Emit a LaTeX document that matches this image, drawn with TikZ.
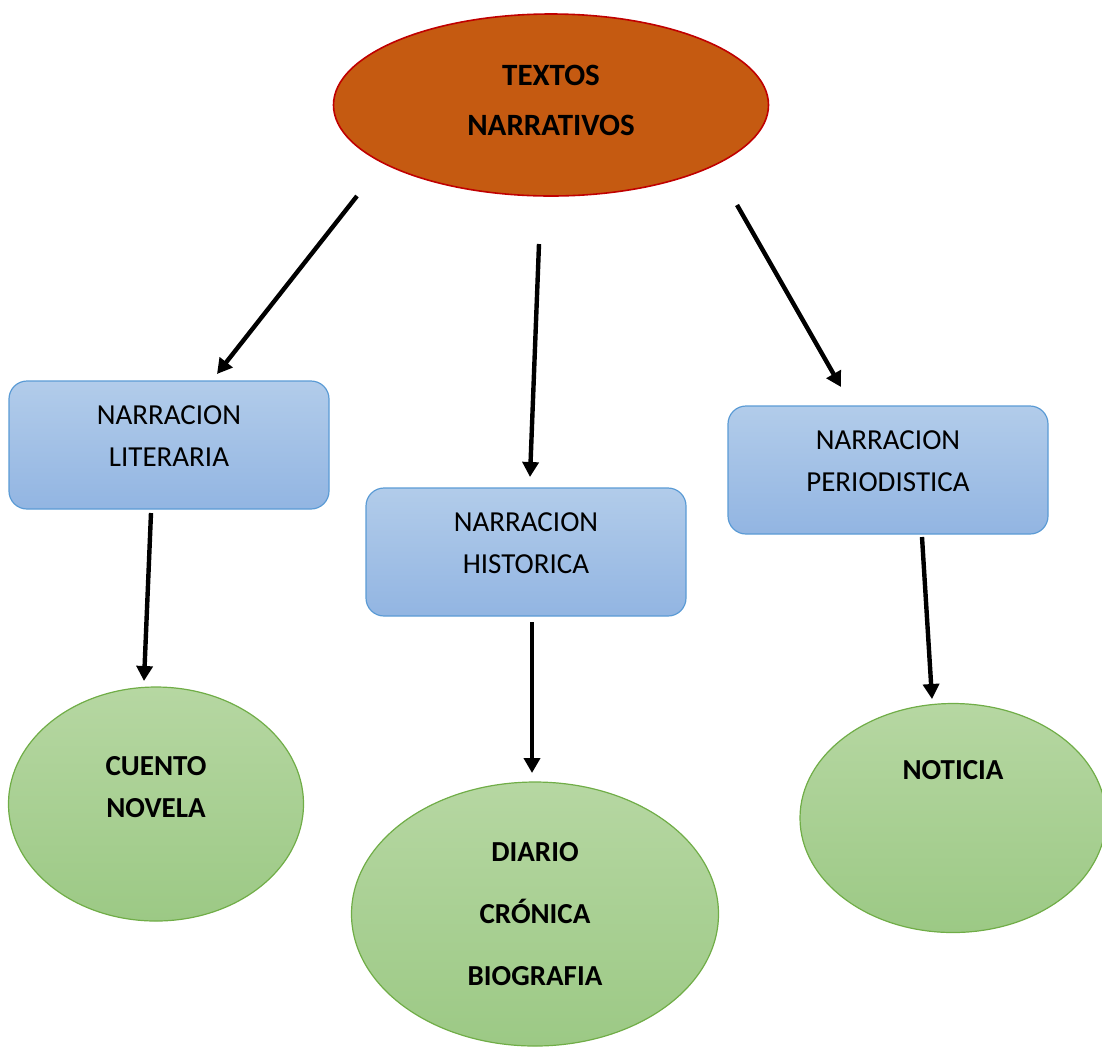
\documentclass[tikz,border=0pt]{standalone}
\usepackage{fontspec}
\setmainfont{Carlito}
\usetikzlibrary{shapes.geometric,arrows.meta}
\definecolor{tronco}{HTML}{C55A11}
\definecolor{troncoborde}{HTML}{C00000}
\definecolor{azularriba}{HTML}{B2CCEA}
\definecolor{azulabajo}{HTML}{92B5E2}
\definecolor{azulborde}{HTML}{5B9BD5}
\definecolor{verdearriba}{HTML}{B6D7A2}
\definecolor{verdeabajo}{HTML}{9CC985}
\definecolor{verdeborde}{HTML}{70AD47}
\begin{document}
\begin{tikzpicture}[x=0.5pt, y=-0.5pt,
  tema/.style={ellipse, fill=tronco, draw=troncoborde, line width=0.8pt,
    minimum width=217.5pt, minimum height=91pt, align=center,
    font=\fontsize{15.5}{25}\selectfont\bfseries},
  caja/.style={rectangle, rounded corners=9pt, top color=azularriba, bottom color=azulabajo,
    draw=azulborde, line width=0.6pt, minimum width=160pt, minimum height=64pt,
    align=center, font=\fontsize{14.5}{21}\selectfont},
  hoja/.style={ellipse, top color=verdearriba, bottom color=verdeabajo,
    draw=verdeborde, line width=0.6pt, align=center,
    font=\fontsize{14.5}{21}\selectfont\bfseries},
  flecha/.style={line width=2.2pt, -{Triangle[length=7.5pt,width=8pt]}}]

\useasboundingbox (0,0) rectangle (1102,1046);

\node [tema] (textos) at (551,105) {TEXTOS\\NARRATIVOS\\[-20pt]\mbox{}};

\node [caja] (literaria) at (169,445) {NARRACION\\LITERARIA\\[-12pt]\mbox{}};
\node [caja] (historica) at (526,552) {NARRACION\\HISTORICA\\[-12pt]\mbox{}};
\node [caja] (periodistica) at (888,470) {NARRACION\\PERIODISTICA\\[-12pt]\mbox{}};

\node [hoja, minimum width=147.5pt, minimum height=117pt] (cuento) at (156,804) {CUENTO\\NOVELA\\[-4pt]\mbox{}};
\node [hoja, minimum width=183.5pt, minimum height=132pt, font=\fontsize{14.5}{31}\selectfont\bfseries] (diario) at (535,914) {DIARIO\\CRÓNICA\\BIOGRAFIA};
\node [hoja, minimum width=153pt, minimum height=114.5pt] (noticia) at (953,818) {NOTICIA\\[27pt]\mbox{}};

\coordinate (t1) at (357,196);
\coordinate (t2) at (539,244);
\coordinate (t3) at (737,205);
\coordinate (l1) at (217,374);
\coordinate (h1) at (530,477);
\coordinate (p1) at (841,387);
\coordinate (l2) at (151,513);
\coordinate (h2) at (532,622);
\coordinate (p2) at (922,537);
\coordinate (c1) at (144,681);
\coordinate (d1) at (532,773);
\coordinate (n1) at (932,699);

\draw [flecha] (t1) -- (l1);
\draw [flecha] (t2) -- (h1);
\draw [flecha] (t3) -- (p1);
\draw [flecha] (l2) -- (c1);
\draw [flecha] (h2) -- (d1);
\draw [flecha] (p2) -- (n1);
\end{tikzpicture}
\end{document}
